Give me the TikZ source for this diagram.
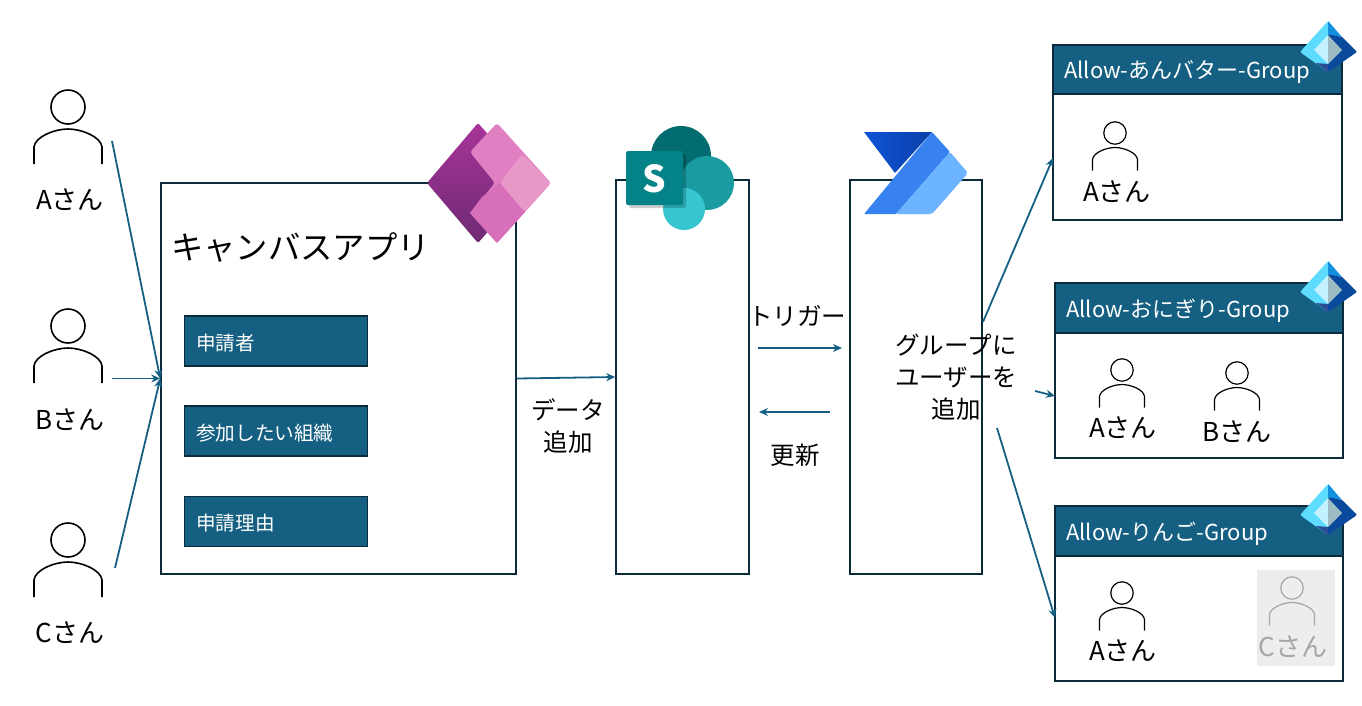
\documentclass[tikz,border=0pt]{standalone}
\usepackage{fontspec}
\setmainfont{Noto Sans CJK JP}
\usetikzlibrary{arrows.meta,calc}
\definecolor{edgec}{HTML}{0B2B3B}
\definecolor{teal1}{HTML}{156082}
\definecolor{ghost}{HTML}{A6A6A6}
\definecolor{paA}{HTML}{A8349A}
\definecolor{paB}{HTML}{6E2A73}
\definecolor{paC}{HTML}{E07FC1}
\definecolor{paD}{HTML}{D86FBB}
\definecolor{paE}{HTML}{E898C8}
\definecolor{spA}{HTML}{036C70}
\definecolor{spB}{HTML}{1A9BA1}
\definecolor{spC}{HTML}{37C6D0}
\definecolor{spD}{HTML}{038387}
\definecolor{auA}{HTML}{0F54D6}
\definecolor{auB}{HTML}{0A3FA8}
\definecolor{auC}{HTML}{3782EE}
\definecolor{auD}{HTML}{6CB4FF}
\colorlet{personc}{black}
\definecolor{entraL}{HTML}{5DDCFF}
\definecolor{entraT}{HTML}{1490DF}
\definecolor{entraD}{HTML}{0A4A9C}
\definecolor{entraB}{HTML}{2B4D94}
\definecolor{entraP}{HTML}{C3F1FF}
\definecolor{entraG}{HTML}{9CBBC2}
\tikzset{
  header/.style={draw=edgec,line width=1.5pt,fill=teal1,inner sep=0pt},
  mainbox/.style={draw=edgec,line width=1.5pt,fill=white,inner sep=0pt},
  fieldbox/.style={draw=edgec,line width=1.2pt,fill=teal1,inner sep=0pt,minimum width=183pt,minimum height=50pt},
  fieldtxt/.style={text=white,font=\fontsize{19.6}{22}\selectfont,anchor=west,inner sep=0pt},
  titletxt/.style={text=white,font=\fontsize{22}{24}\selectfont,anchor=west,inner sep=0pt},
  lab/.style={font=\fontsize{26}{32}\selectfont,align=center,inner sep=0pt,text=black},
  labcjk/.style={font=\fontsize{24.5}{32}\selectfont,align=center,inner sep=0pt,text=black},
  flowarrow/.style={draw=teal1,line width=1.8pt,-{Stealth[length=9pt,width=8pt]}},
  pics/person/.style={code={
    \draw[line width=#1,draw=personc] (0,0) circle[radius=17];
    \draw[line width=#1,draw=personc] (-34,57) -- (-34,40) .. controls (-33,30) and (-14,22) .. (0,22) .. controls (14,22) and (33,30) .. (34,40) -- (34,57);
  }},
  pics/entra/.style={code={
    \fill[fill=entraL,rounded corners=2pt] (-28,0) -- (0,-31) -- (8,-22) -- (8,12) -- (0,20) -- cycle;
    \fill[fill=entraT] (0,-31) -- (14,-15) -- (0,-18) -- cycle;
    \fill[fill=entraD,rounded corners=1pt] (0,-18) -- (14,-15) -- (29,0) -- (0,20) -- (0,12) -- cycle;
    \fill[fill=entraB] (-12,11) -- (0,12) -- (0,20) -- cycle;
    \fill[fill=entraP] (-14,-2) -- (0,-17) -- (0,12) -- cycle;
    \fill[fill=entraG] (0,-17) -- (14,-2) -- (0,12) -- cycle;
  }},
}
\begin{document}
\begin{tikzpicture}[x=1pt,y=-1pt]
\useasboundingbox (0,0) rectangle (1362,705);

% main boxes
\node[mainbox,minimum width=355pt,minimum height=391pt] (canvas) at (338.5,378.5) {};
\node[mainbox,minimum width=133pt,minimum height=394pt] (sp) at (682.5,377) {};
\node[mainbox,minimum width=132pt,minimum height=394pt] (flow) at (916,377) {};

% canvas content
\node[font=\fontsize{32.3}{38}\selectfont,anchor=west,inner sep=0pt] (ctitle) at (171,248) {キャンバスアプリ};
\node[fieldbox] (f1) at (276,341) {};
\node[fieldtxt] (f1t) at (196,343) {申請者};
\node[fieldbox] (f2) at (276,431) {};
\node[fieldtxt] (f2t) at (196,433) {参加したい組織};
\node[fieldbox] (f3) at (276,521.5) {};
\node[fieldtxt] (f3t) at (196,523) {申請理由};

% people on the left
\pic at (68,107) {person=1.6pt};
\pic at (68,326) {person=1.6pt};
\pic at (68,540) {person=1.6pt};
\node[lab] (la) at (70,200) {Aさん};
\node[lab] (lb) at (70,420) {Bさん};
\node[lab] (lc) at (70,633) {Cさん};

% groups
\node[mainbox,minimum width=289pt,minimum height=175pt] (g1) at (1197.5,132.5) {};
\node[header,minimum width=289pt,minimum height=49pt] (g1h) at (1197.5,69.5) {};
\node[titletxt] (g1t) at (1064,72) {Allow-あんバター-Group};
\node[mainbox,minimum width=288pt,minimum height=175pt] (g2) at (1199,370.5) {};
\node[header,minimum width=288pt,minimum height=50pt] (g2h) at (1199,308) {};
\node[titletxt] (g2t) at (1066,311) {Allow-おにぎり-Group};
\node[mainbox,minimum width=288pt,minimum height=175pt] (g3) at (1199,593.5) {};
\node[header,minimum width=288pt,minimum height=50pt] (g3h) at (1199,531) {};
\node[titletxt] (g3t) at (1066,534) {Allow-りんご-Group};

% members
\pic[scale=0.66] at (1115,133) {person=1.2pt};
\pic[scale=0.66] at (1122,370) {person=1.2pt};
\pic[scale=0.66] at (1237,373) {person=1.2pt};
\pic[scale=0.66] at (1122,593) {person=1.2pt};
\node[lab] (m1) at (1117,192) {Aさん};
\node[lab] (m2) at (1123,428) {Aさん};
\node[lab] (m3) at (1237,432) {Bさん};
\node[lab] (m4) at (1123,651) {Aさん};
\fill[fill=black!7] (1257,570) rectangle (1335,666);
\begin{scope}
\colorlet{personc}{ghost}
\pic[scale=0.66] at (1292,588) {person=1.2pt};
\end{scope}
\node[lab,text=ghost] (m5) at (1293,647) {Cさん};

% labels
\node[labcjk] (tdata) at (568,426) {データ\\追加};
\node[labcjk] (ttrig) at (797,316) {トリガー};
\node[labcjk] (tupd) at (795,455) {更新};
\node[labcjk] (tadd) at (956,377) {グループに\\ユーザーを\\追加};

% connector ends
\coordinate (pa) at (112,141);
\coordinate (pb) at (112,378.5);
\coordinate (pc) at (115,568);
\coordinate (t1) at (758,348);
\coordinate (t2) at (842,348);
\coordinate (u1) at (830,412);
\coordinate (u2) at (759,412);
\coordinate (s1) at (983,322);
\coordinate (e1) at (1053,158);
\coordinate (s2) at (1035,391);
\coordinate (e2) at (1055,396);
\coordinate (s3) at (997,428);
\coordinate (e3) at (1055,618);

\draw[flowarrow] (pa) -- (canvas.west);
\draw[flowarrow] (pb) -- (canvas.west);
\draw[flowarrow] (pc) -- (canvas.west);
\draw[flowarrow] (canvas.east) -- (sp.west);
\draw[flowarrow] (t1) -- (t2);
\draw[flowarrow] (u1) -- (u2);
\draw[flowarrow] (s1) -- (e1);
\draw[flowarrow] (s2) -- (e2);
\draw[flowarrow] (s3) -- (e3);

% Power Apps icon
\shade[top color=paA,bottom color=paB,rounded corners=2pt] (427,183) -- (478,123) -- (500,148) -- (500,218) -- (478,243) -- cycle;
\fill[fill=paC,rounded corners=3pt] (470,152) -- (497,123) -- (551,183) -- (497,243) -- (470,213) -- (495,183) -- cycle;
\fill[fill=paD] (482,197) -- (500,183) -- (525,212) -- (497,243) -- (470,213) -- cycle;
\fill[fill=paE,rounded corners=3pt] (500,183) -- (522,154) -- (551,183) -- (525,212) -- cycle;

% SharePoint icon
\fill[fill=spA] (681,156) circle[radius=30];
\fill[fill=spB] (707,183) circle[radius=27];
\fill[fill=spC] (684,209) circle[radius=21];
\fill[fill=black,opacity=0.2,rounded corners=2pt] (629,154) rectangle (686,208);
\fill[fill=spD,rounded corners=2pt] (626,151) rectangle (683,205);
\node[text=white,font=\bfseries\fontsize{37}{40}\selectfont,inner sep=0pt] (sletter) at (654,179) {S};

% Power Automate icon
\shade[left color=auA,right color=auB] (864,132) -- (932,132) -- (895,173) -- cycle;
\fill[fill=auC,rounded corners=1pt] (864,214) -- (932,132) -- (950,152) -- (896,214) -- cycle;
\fill[fill=auD,rounded corners=2pt] (950,152) -- (968,173) -- (932,214) -- (896,214) -- cycle;

% Entra icons
\pic at (1328,52) {entra};
\pic at (1328,292) {entra};
\pic at (1328,515) {entra};
\end{tikzpicture}
\end{document}
